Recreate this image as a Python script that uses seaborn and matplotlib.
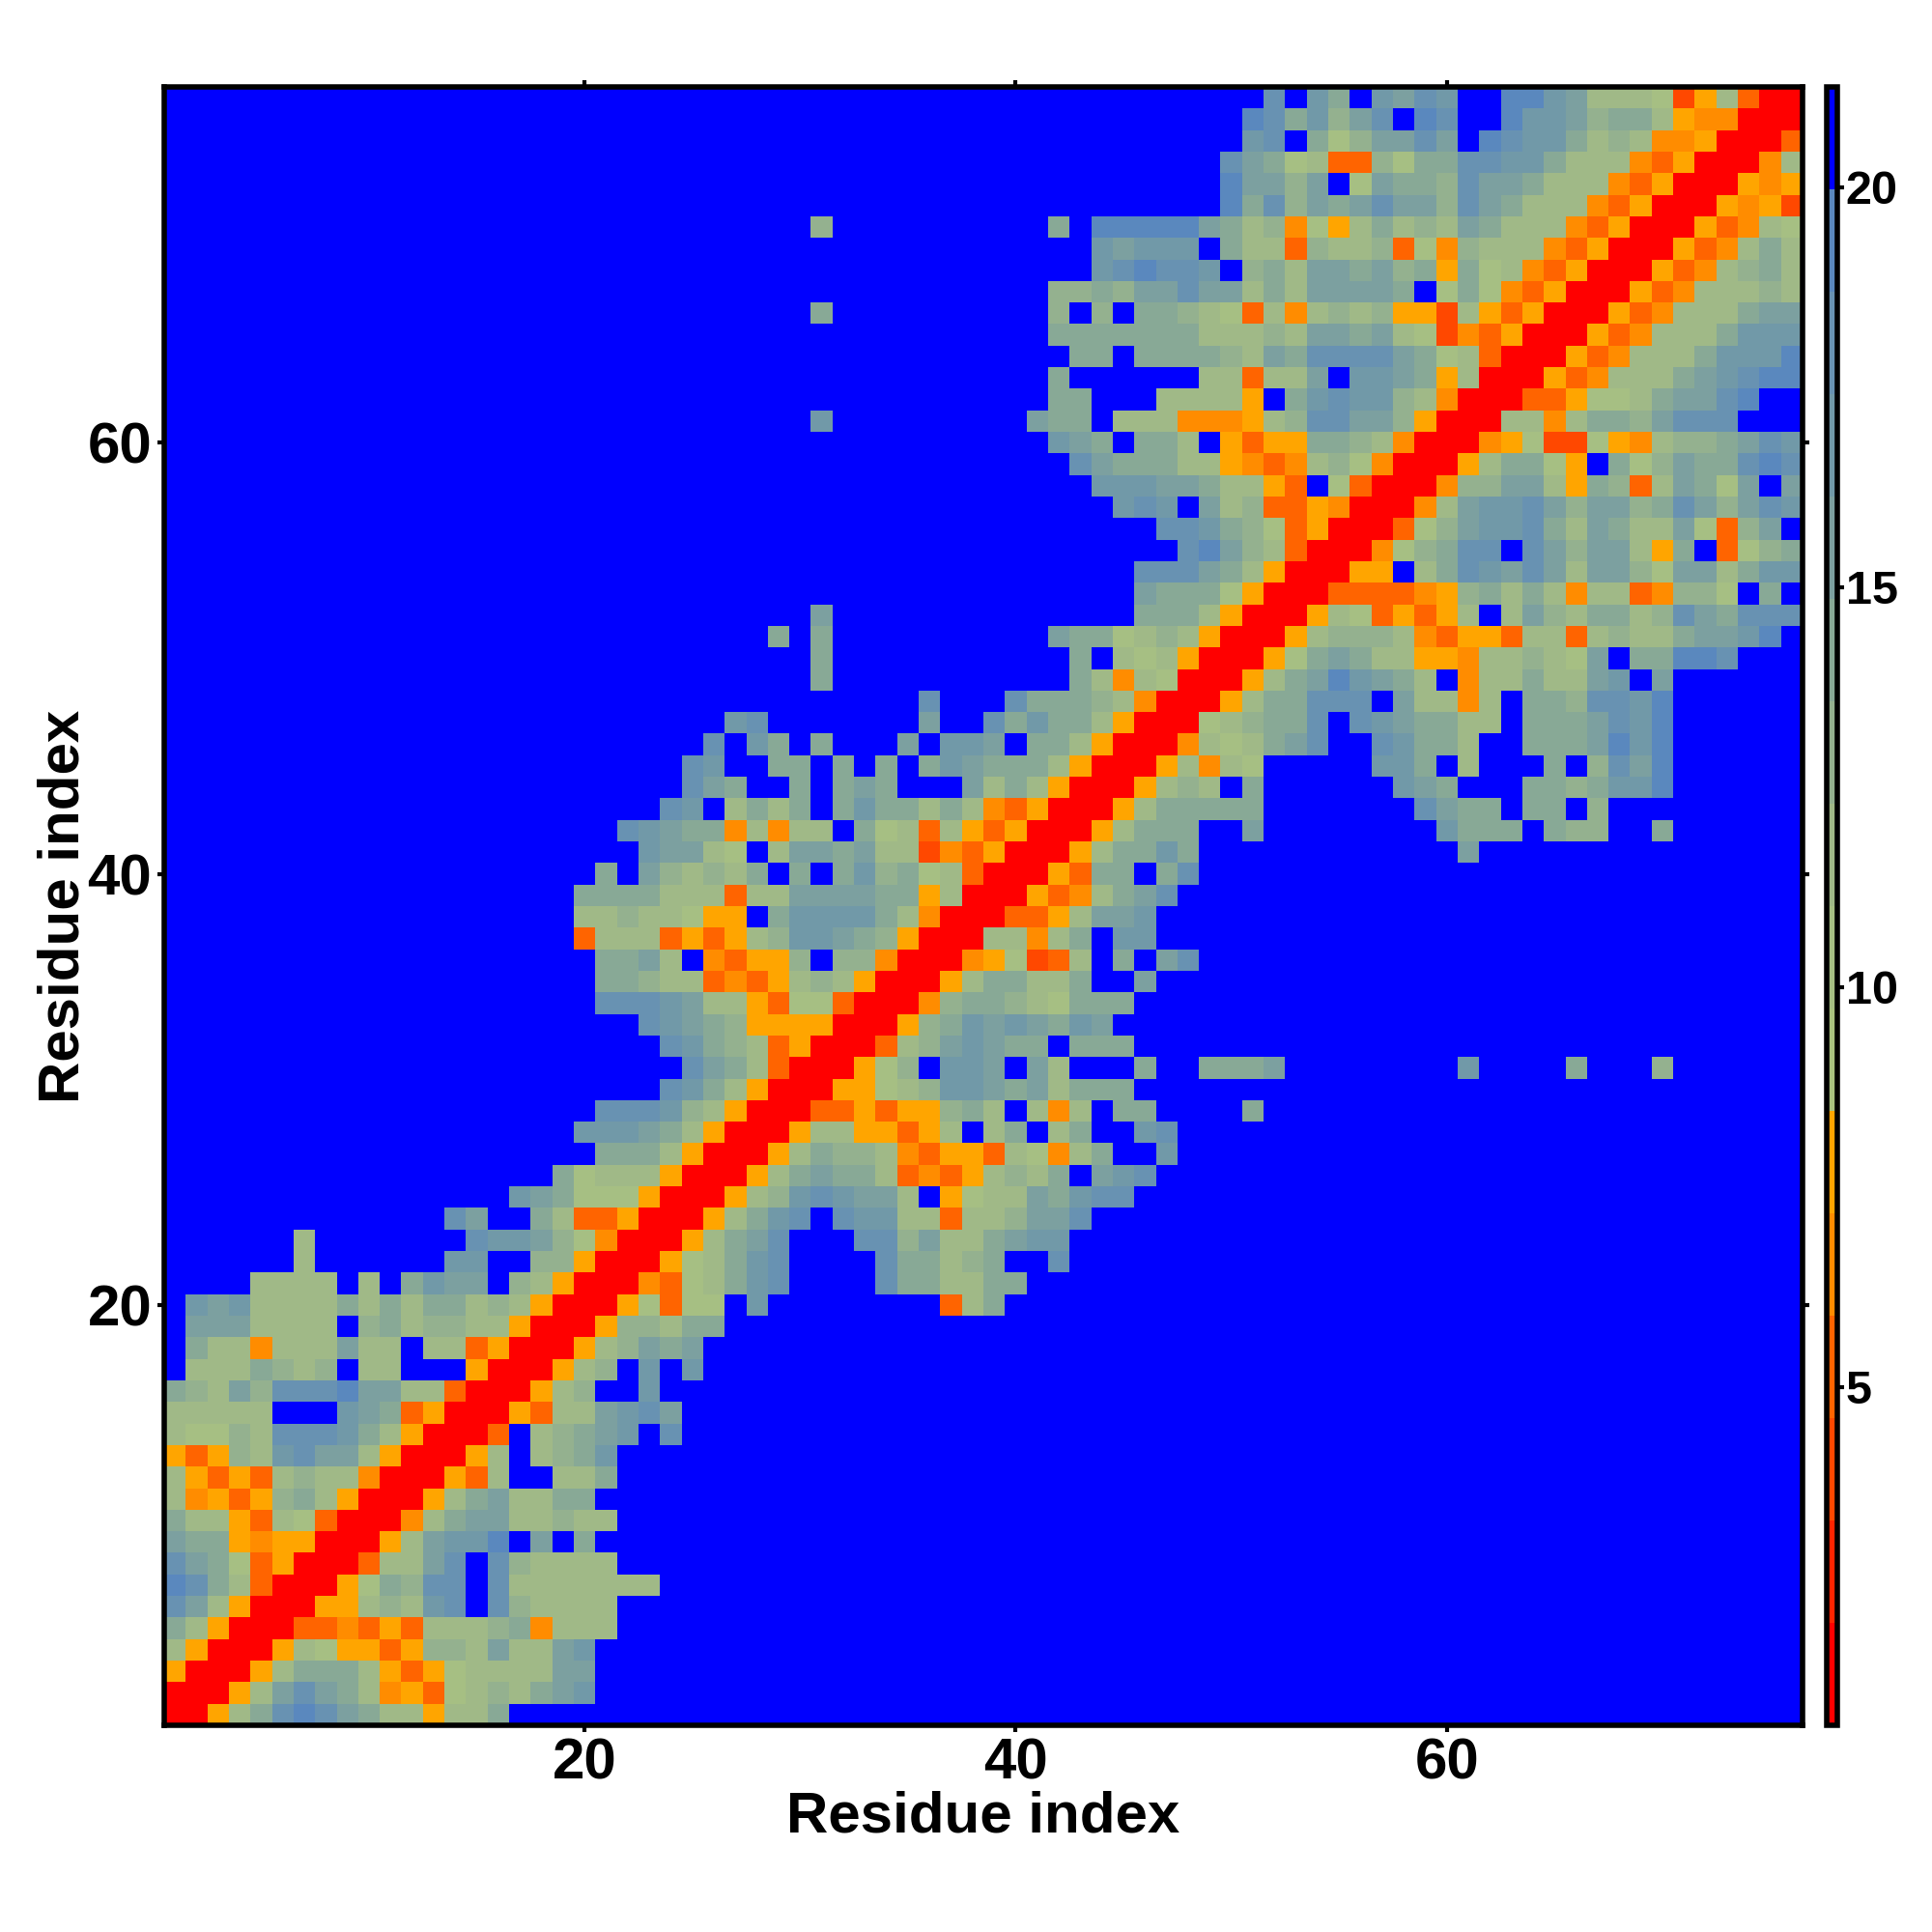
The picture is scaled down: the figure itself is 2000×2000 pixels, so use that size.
import numpy as np
import matplotlib
matplotlib.use("Agg")
import matplotlib.pyplot as plt
from matplotlib.colors import ListedColormap
import seaborn as sns

# one string per residue y (1..76), cells x <= y, hex = colour bin
# leading blue cells are left out, the map is symmetric so the rest is mirrored
rows = [
    "0",
    "00",
    "500",
    "8500",
    "a8500",
    "db8500",
    "eda8300",
    "dba73500",
    "baa545500",
    "a885387300",
    "845359a8500",
    "853538988400",
    "53598cdbb8500",
    "87798dddca8500",
    "88888fffcba3500",
    "a98b9dddebb88300",
    "f888a989f88fff500",
    "fa884888b88f883500",
    "fbbb8888f9a89988500",
    "fcbc8888a8a8aa898500",
    "ffff8888f8facbbf98500",
    "ffffff8ffffffccff99500",
    "ffffff8fffffffdccb97400",
    "fffffffffffffdbffa833500",
    "cba777500",
    "a7888500",
    "aaa8500",
    "cccba8500",
    "dddc98500",
    "dca8500",
    "dba8300",
    "dca983500",
    "dcba9555500",
    "dddcb885377300",
    "aa9883435898500",
    "aab8f43559f99400",
    "3888353589ccba9500",
    "88988755facccca8400",
    "aaaa888388bbbbaa5800",
    "afb9898afafac9a78300",
    "cbb87f8bbab88243500",
    "dcbaa48488fa783853500",
    "dcf8a8afacaa8a843500",
    "dbaffafabafffb8a8500",
    "dcffaafafafacbaaa8500",
    "dfcafafffbfccbfaa8500",
    "cdfffffffbffdacaa8500",
    "dfffdaaa98400",
    "afffffffffffa848700",
    "afffffffffffaf878500",
    "afaffffffffffbaa7898500",
    "bffffffffffffffaaa8500",
    "baaa7500",
    "dddba8500",
    "deb98300",
    "ddca973500",
    "cdcfb89335400",
    "cccbba8853f7300",
    "dbaaa885434897400",
    "cbafaa8f5355aa98400",
    "cfffffffffbaaf888444589ddbb9500",
    "aafff88885facdcc98400",
    "affffff88388bfccba5800",
    "aafaaaa98baddddba78300",
    "aaaaaaa88898bbab87243500",
    "affffffffff9f9faa9873848989552853500",
    "99a9bbdbb8a8bbbbaf7a743500",
    "cdeddcf9a8bbab9a5a7843500",
    "cbcccfa8839889374988843500",
    "9ffffffffffafeeeeeba894758a898ba88843500",
    "ead9babdbb9dba88843500",
    "ebb9bf7baa9dbba88843500",
    "dba783397aaddcca88843500",
    "cdfa79bbdbfedcca89844500",
    "edac9bdfedffeccb9aa854400",
    "dfcafcbdcffeecb8887258300",
]

bin_colors = [
    "#ff0000", "#ff2400", "#ff4800", "#ff6400", "#ff8c00", "#ffa500",
    "#a9c27f", "#a6bf83", "#a0b987", "#94b18f", "#88a996", "#7ca0a0",
    "#7199a8", "#6892b2", "#5a88be", "#0000ff",
]
value_min = 0.77
bin_width = 1.28
residue_ticks = [20, 40, 60]
cbar_ticks = [5, 10, 15, 20]

n = len(rows)
values = np.zeros((n, n))
for i, row in enumerate(rows):
    row = row.rjust(i + 1, "f")
    for j, ch in enumerate(row):
        # centre of the colour bin
        values[i, j] = values[j, i] = value_min + bin_width * (int(ch, 16) + 0.5)

sns.set_style("white")
plt.rcParams["font.family"] = ["Liberation Sans", "DejaVu Sans"]
plt.rcParams["font.weight"] = "bold"
plt.rcParams["text.color"] = "black"
plt.rcParams["axes.labelcolor"] = "black"
plt.rcParams["xtick.color"] = "black"
plt.rcParams["ytick.color"] = "black"

fig = plt.figure(figsize=(10, 10), dpi=200)
ax = fig.add_axes([0.085, 0.107, 0.848, 0.848])
cax = fig.add_axes([0.9455, 0.107, 0.0055, 0.848])

sns.heatmap(values, ax=ax, cbar_ax=cax, cmap=ListedColormap(bin_colors),
            vmin=value_min, vmax=value_min + bin_width * len(bin_colors),
            xticklabels=False, yticklabels=False, linewidths=0)
ax.set_ylim(0, n)

ax.set_xticks([t - 0.5 for t in residue_ticks])
ax.set_yticks([t - 0.5 for t in residue_ticks])
ax.set_xticklabels(residue_ticks, fontsize=21.6, fontweight="bold")
ax.set_yticklabels(residue_ticks, fontsize=21.6, fontweight="bold", rotation=0)
ax.tick_params(axis="both", which="major", length=2.6, width=1.5, color="black",
               direction="out", top=True, right=True, bottom=True, left=True,
               pad=2)
ax.set_xlabel("Residue index", fontsize=21.6, fontweight="bold", labelpad=0)
ax.set_ylabel("Residue index", fontsize=21.6, fontweight="bold", labelpad=-1)
for side in ax.spines.values():
    side.set_visible(True)
    side.set_linewidth(2)
    side.set_color("black")

cbar = ax.collections[0].colorbar
cbar.set_ticks(cbar_ticks)
cbar.set_ticklabels(cbar_ticks, fontsize=17.5, fontweight="bold")
cbar.ax.tick_params(length=2.6, width=1.5, color="black", direction="out", pad=0.5)
cbar.ax.minorticks_off()
cbar.outline.set_visible(True)
cbar.outline.set_linewidth(2)
cbar.outline.set_edgecolor("black")

fig.savefig("out.png", dpi=200, facecolor="white")
